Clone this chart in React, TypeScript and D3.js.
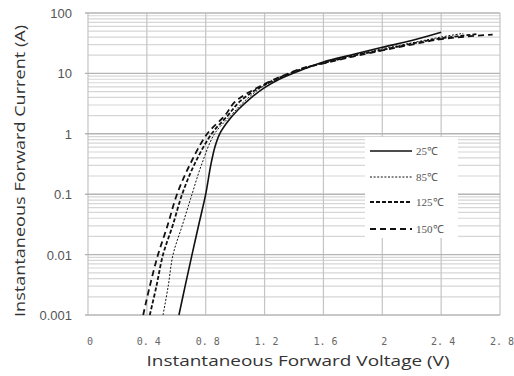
import React from "react";
import * as d3 from "d3";

const xTicks = [0, 0.4, 0.8, 1.2, 1.6, 2.0, 2.4, 2.8];
const xTickLabels = ["0", "0. 4", "0. 8", "1. 2", "1. 6", "2", "2. 4", "2. 8"];
const yTicks = [0.001, 0.01, 0.1, 1, 10, 100];
const yTickLabels = ["0.001", "0.01", "0.1", "1", "10", "100"];
const seriesNames = ["25\u2103", "85\u2103", "125\u2103", "150\u2103"];

const v25 = [0.618, 0.66, 0.707, 0.751, 0.8, 0.834, 0.862, 0.895, 0.95, 1.02, 1.1, 1.2, 1.3, 1.475, 1.6, 1.8, 2.0, 2.2, 2.4];
const i25 = [0.001, 0.003, 0.01, 0.03, 0.1, 0.3, 0.6, 1, 1.6, 2.5, 3.8, 5.8, 8, 12, 15.5, 20.5, 27, 35, 48];
const v85 = [0.51, 0.545, 0.578, 0.64, 0.707, 0.77, 0.86, 0.97, 1.06, 1.2, 1.47, 1.6, 1.8, 2.0, 2.2, 2.4, 2.55];
const i85 = [0.001, 0.003, 0.01, 0.03, 0.1, 0.3, 1, 2, 3.4, 6.3, 12, 15, 20, 25.5, 32, 40, 46];
const v125 = [0.42, 0.465, 0.51, 0.575, 0.64, 0.72, 0.84, 0.95, 1.03, 1.19, 1.46, 1.6, 1.8, 2.0, 2.2, 2.4, 2.65];
const i125 = [0.001, 0.003, 0.01, 0.03, 0.1, 0.3, 1, 2, 3.4, 6.3, 12, 14.8, 19.5, 24.5, 31, 38, 45];
const v150 = [0.375, 0.42, 0.476, 0.54, 0.605, 0.69, 0.81, 0.93, 1.0, 1.18, 1.45, 1.6, 1.8, 2.0, 2.2, 2.4, 2.75];
const i150 = [0.001, 0.003, 0.01, 0.03, 0.1, 0.3, 1, 2, 3.4, 6.3, 12, 14.6, 19, 24, 30, 37, 44];

const volts = [v25, v85, v125, v150];
const currents = [i25, i85, i125, i150];
const dashes = ["none", "2,1.6", "4,2", "6,4"];
const widths = [1.6, 1.0, 1.8, 1.8];

export default function App() {
  const W = 514, H = 376;
  const left = 88, right = 500, top = 13, bottom = 315;
  const x = d3.scaleLinear().domain([0, 2.8]).range([left, right]);
  const y = d3.scaleLog().domain([0.001, 100]).range([bottom, top]);

  const minor: number[] = [];
  for (let e = -3; e < 2; e++) {
    for (let k = 2; k <= 9; k++) minor.push(k * Math.pow(10, e));
  }

  const line = d3
    .line<[number, number]>()
    .x((d) => x(d[0]))
    .y((d) => y(d[1]))
    .curve(d3.curveCatmullRom.alpha(0.5));

  const legendX = 365, legendY = 137, legendW = 93, legendH = 101;
  const rowY = [151, 177, 202, 229];

  return (
    <svg width={W} height={H} style={{ position: "absolute", left: 0, top: 0, background: "#fff" }}>
      <rect x={0} y={0} width={W} height={H} fill="#fff" />
      {minor.map((m, i) => (
        <line key={"m" + i} x1={left} x2={right} y1={y(m)} y2={y(m)} stroke="#d6d6d6" strokeWidth={1.2} />
      ))}
      {xTicks.map((t, i) => (
        <line key={"vx" + i} x1={x(t)} x2={x(t)} y1={top} y2={bottom} stroke="#c4c4c4" strokeWidth={1.2} />
      ))}
      {yTicks.map((t, i) => (
        <line key={"my" + i} x1={left - 3} x2={right} y1={y(t)} y2={y(t)} stroke="#b4b4b4" strokeWidth={1.4} />
      ))}
      {volts.map((vs, s) => {
        const pts: [number, number][] = vs.map((v, j) => [v, currents[s][j]]);
        return (
          <path
            key={"s" + s}
            d={line(pts) || ""}
            fill="none"
            stroke="#111"
            strokeWidth={widths[s]}
            strokeDasharray={dashes[s]}
          />
        );
      })}
      <rect x={legendX} y={legendY} width={legendW} height={legendH} fill="#fff" />
      {seriesNames.map((n, i) => (
        <g key={"lg" + i}>
          <line x1={370} x2={412} y1={rowY[i]} y2={rowY[i]} stroke="#111" strokeWidth={widths[i]} strokeDasharray={dashes[i]} />
          <text x={416} y={rowY[i] + 4} fontFamily="Liberation Serif" fontSize={11} fill="#555">
            {n}
          </text>
        </g>
      ))}
      {yTicks.map((t, i) => (
        <text key={"yl" + i} x={72} y={y(t) + 5} textAnchor="end" fontFamily="Liberation Sans" fontSize={13} fill="#555">
          {yTickLabels[i]}
        </text>
      ))}
      {xTicks.map((t, i) => (
        <text key={"xl" + i} x={x(t) + 2} y={345} textAnchor="middle" fontFamily="DejaVu Sans Mono" fontSize={10} fill="#666">
          {xTickLabels[i]}
        </text>
      ))}
      <text x={298} y={366} textAnchor="middle" fontFamily="Open Sans" fontSize={15} fill="#333" textLength={303} lengthAdjust="spacingAndGlyphs">
        Instantaneous Forward Voltage (V)
      </text>
      <text
        transform={`translate(25,171) rotate(-90)`}
        textAnchor="middle"
        fontFamily="Open Sans"
        fontSize={15}
        fill="#333"
        textLength={292}
        lengthAdjust="spacingAndGlyphs"
      >
        Instantaneous Forward Current (A)
      </text>
    </svg>
  );
}
